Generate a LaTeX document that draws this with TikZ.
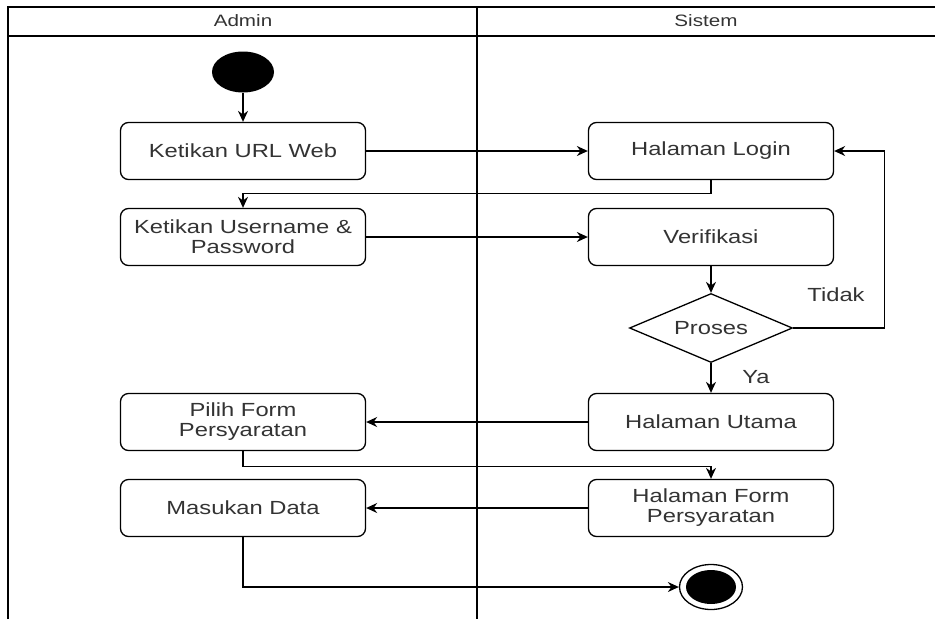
\documentclass[tikz,border=0pt]{standalone}
\usepackage{fontspec}
\setmainfont{Liberation Sans}[FakeStretch=1.25]
\usetikzlibrary{arrows.meta,shapes.geometric}

\begin{document}
\begin{tikzpicture}[x=1pt,y=-1pt,line width=1.3pt,>={Stealth[length=11pt,width=10pt]},
  act/.style={draw,rounded corners=8pt,minimum width=245pt,minimum height=57pt,
    align=center,text=black!80,font=\fontsize{19}{20}\selectfont},
  lbl/.style={text=black!80,font=\fontsize{19}{20}\selectfont}]
% lane divider
\def\LaneX{477}
\useasboundingbox (0,0) rectangle (935,619);
% ---------- swimlanes ----------
\draw (8,619) -- (8,7) -- (935,7);
\draw (8,36) -- (935,36);
\draw (\LaneX,7) -- (\LaneX,619);
\node[lbl,font=\fontsize{16.5}{18}\selectfont] (hadmin) at (243,21) {Admin};
\node[lbl,font=\fontsize{16.5}{18}\selectfont] (hsistem) at (706,21) {Sistem};
% ---------- start / end ----------
\node[ellipse,fill=black,minimum width=62pt,minimum height=41pt,inner sep=0pt] (start) at (243,72) {};
\node[ellipse,draw,minimum width=63pt,minimum height=45pt,inner sep=0pt] (end) at (711,587) {};
\fill (end.center) ellipse [x radius=25pt, y radius=17pt];
% ---------- activities ----------
\node[act] (url) at (243,151) {Ketikan URL Web};
\node[act] (login) at (711,151) {Halaman Login};
\node[act] (user) at (243,237) {Ketikan Username \&\\Password};
\node[act] (verif) at (711,237) {Verifikasi};
\node[diamond,draw,minimum width=163pt,minimum height=69pt,aspect=2.36,inner sep=0pt,
  lbl] (proses) at (711,328) {Proses};
\node[act] (utama) at (711,422) {Halaman Utama};
\node[act] (pilih) at (243,422) {Pilih Form\\Persyaratan};
\node[act] (form) at (711,508) {Halaman Form\\Persyaratan};
\node[act] (masuk) at (243,508) {Masukan Data};
% ---------- flows ----------
\draw[->] (start) -- (url);
\draw[->] (url) -- (login);
\draw[->] (login.south) -- ++(0,13) -| (user.north);
\draw[->] (user) -- (verif);
\draw[->] (verif) -- (proses);
\draw[->] (proses.east) -- ++(91,0) |- (login.east);
\draw[->] (proses) -- (utama);
\draw[->] (utama) -- (pilih);
\draw[->] (pilih.south) -- ++(0,15) -| (form.north);
\draw[->] (form) -- (masuk);
\draw[->] (masuk.south) |- (end.west);
% ---------- guard labels ----------
\node[lbl] (tidak) at (836,295) {Tidak};
\node[lbl] (ya) at (756,377) {Ya};
\end{tikzpicture}
\end{document}
